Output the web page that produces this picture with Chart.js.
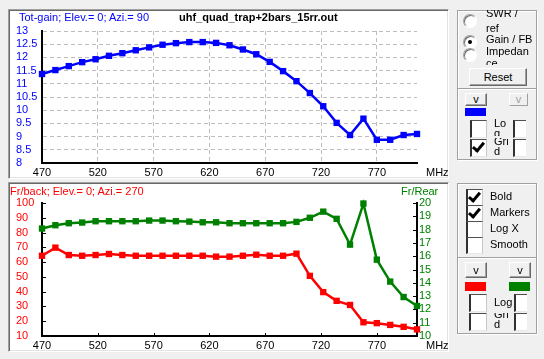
<!DOCTYPE html>
<html><head><meta charset="utf-8">
<script src="https://cdn.jsdelivr.net/npm/chart.js@4/dist/chart.umd.min.js"></script>
<style>
html,body{margin:0;padding:0;background:#f0f0f0;width:544px;height:359px;overflow:hidden;font-family:"Liberation Sans",Arial,sans-serif;font-size:11px;}
.abs{position:absolute;}
.panel{position:absolute;box-sizing:border-box;background:#fff;border-left:1px solid #a0a0a0;border-top:1px solid #a0a0a0;border-right:1px solid #fff;border-bottom:1px solid #fff;box-shadow:inset 1px 1px 0 #696969, inset -1px -1px 0 #e3e3e3;}
canvas{position:absolute;}
.txt{position:absolute;white-space:nowrap;line-height:13px;font-size:11px;}
.grp{position:absolute;box-sizing:border-box;border:1px solid #a0a0a0;box-shadow:1px 1px 0 #fff, inset 1px 1px 0 #fff;}
.btn{position:absolute;box-sizing:border-box;background:#f0f0f0;border-top:1px solid #fff;border-left:1px solid #fff;border-right:1px solid #696969;border-bottom:1px solid #696969;box-shadow:inset -1px -1px 0 #a0a0a0;text-align:center;font-size:11px;}
.cb{position:absolute;box-sizing:border-box;background:#fff;border-left:2px solid #303030;border-top:1px solid #505050;border-right:1px solid #c8c8c8;border-bottom:1px solid #e8e8e8;}
.chk{position:absolute;left:3px;top:0px;width:4px;height:9px;border-right:3px solid #000;border-bottom:3px solid #000;transform:rotate(40deg);}
.radio{position:absolute;box-sizing:border-box;width:14px;height:14px;border-radius:50%;background:#fff;border:1px solid;border-color:#a0a0a0 #fff #fff #a0a0a0;box-shadow:inset 1px 1px 0 #696969;}
.dot{position:absolute;left:4px;top:4px;width:4px;height:4px;border-radius:50%;background:#000;}
.clip{position:absolute;overflow:hidden;}
</style>
</head><body>
<div class="panel" style="left:8px;top:9px;width:441px;height:170px;"></div>
<div class="panel" style="left:8px;top:182px;width:441px;height:170px;"></div>
<canvas id="c1" width="440" height="169" style="left:9px;top:10px;"></canvas>
<canvas id="c2" width="440" height="169" style="left:9px;top:183px;"></canvas>

<div class="txt" style="left:19px;top:11px;color:#0000ff;">Tot-gain; Elev.= 0; Azi.= 90</div>
<div class="txt" style="left:179px;top:11px;color:#000;font-weight:bold;">uhf_quad_trap+2bars_15rr.out</div>
<div class="txt" style="left:426px;top:166px;color:#000;">MHz</div>
<div class="txt" style="left:10px;top:185px;color:#ff0000;">Fr/back; Elev.= 0; Azi.= 270</div>
<div class="txt" style="left:401px;top:185px;color:#008000;">Fr/Rear</div>
<div class="txt" style="left:426px;top:339px;color:#000;">MHz</div>

<!-- group 1 -->
<div class="grp" style="left:457px;top:10px;width:80px;height:79px;"></div>
<div class="radio" style="left:463px;top:14px;"></div>
<div class="radio" style="left:463px;top:35px;"><div class="dot"></div></div>
<div class="radio" style="left:463px;top:48px;"></div>
<div class="clip" style="left:486px;top:10px;width:50px;height:24px;"><div class="txt" style="left:0;top:-4px;line-height:15px;">SWR /<br>ref</div></div>
<div class="txt" style="left:486px;top:33px;">Gain / FB</div>
<div class="clip" style="left:486px;top:47px;width:50px;height:18px;"><div class="txt" style="left:0;top:-2px;line-height:12px;">Impedan<br>ce</div></div>
<div class="btn" style="left:469px;top:68px;width:58px;height:18px;line-height:16px;">Reset</div>

<!-- group 2 -->
<div class="grp" style="left:457px;top:88px;width:80px;height:72px;"></div>
<div class="btn" style="left:465px;top:93px;width:22px;height:13px;line-height:10px;">v</div>
<div class="btn" style="left:509px;top:93px;width:19px;height:13px;line-height:10px;color:#a0a0a0;border-right-color:#a0a0a0;border-bottom-color:#a0a0a0;box-shadow:none;">v</div>
<div class="abs" style="left:465px;top:108px;width:21px;height:8px;background:#0000ff;"></div>
<div class="cb" style="left:470px;top:120px;width:17px;height:18px;"></div>
<div class="cb" style="left:470px;top:139px;width:17px;height:18px;"><div class="chk"></div></div>
<div class="clip" style="left:494px;top:118px;width:16px;height:18px;"><div class="txt" style="left:0;top:0px;line-height:10px;">Lo<br>g</div></div>
<div class="clip" style="left:494px;top:138px;width:16px;height:20px;"><div class="txt" style="left:0;top:-2px;line-height:10px;">Gri<br>d</div></div>
<div class="cb" style="left:513px;top:120px;width:13px;height:18px;border-right:none;"></div>
<div class="cb" style="left:513px;top:139px;width:13px;height:18px;border-right:none;"></div>

<!-- group 3 -->
<div class="grp" style="left:457px;top:183px;width:80px;height:75px;"></div>
<div class="cb" style="left:466px;top:189px;width:17px;height:17px;"><div class="chk"></div></div>
<div class="cb" style="left:466px;top:205px;width:17px;height:17px;"><div class="chk"></div></div>
<div class="cb" style="left:466px;top:221px;width:17px;height:17px;"></div>
<div class="cb" style="left:466px;top:237px;width:17px;height:17px;"></div>
<div class="txt" style="left:490px;top:190px;">Bold</div>
<div class="txt" style="left:490px;top:206px;">Markers</div>
<div class="txt" style="left:490px;top:222px;">Log X</div>
<div class="txt" style="left:490px;top:238px;">Smooth</div>

<!-- group 4 -->
<div class="grp" style="left:457px;top:257px;width:80px;height:77px;"></div>
<div class="btn" style="left:465px;top:262px;width:22px;height:16px;line-height:14px;">v</div>
<div class="btn" style="left:509px;top:262px;width:22px;height:16px;line-height:14px;">v</div>
<div class="abs" style="left:465px;top:282px;width:21px;height:9px;background:#ff0000;"></div>
<div class="abs" style="left:509px;top:282px;width:21px;height:9px;background:#008000;"></div>
<div class="cb" style="left:469px;top:294px;width:18px;height:18px;"></div>
<div class="cb" style="left:469px;top:313px;width:18px;height:18px;"></div>
<div class="txt" style="left:494px;top:296px;">Log</div>
<div class="clip" style="left:494px;top:313px;width:16px;height:18px;"><div class="txt" style="left:0;top:-4px;line-height:10px;">Gri<br>d</div></div>
<div class="cb" style="left:514px;top:294px;width:13px;height:18px;border-right:none;"></div>
<div class="cb" style="left:514px;top:313px;width:13px;height:18px;border-right:none;"></div>

<script>
// ---- data ----
const freqs = [470,482,494,506,518,530,542,554,566,578,590,602,614,626,638,650,662,674,686,698,710,722,734,746,758,770,782,794,806];
const totGain = [11.37,11.52,11.67,11.82,11.93,12.06,12.16,12.27,12.38,12.48,12.54,12.58,12.58,12.55,12.46,12.30,12.12,11.83,11.48,11.10,10.65,10.15,9.52,9.06,9.68,8.88,8.88,9.06,9.10];
const frBack = [64.3,69.8,64.8,64.3,64.8,65.5,64.8,64.3,64.3,64.3,64.3,64.3,64.3,63.7,63.7,64.3,65.0,64.3,64.3,65.7,50.7,39.7,33.8,31.0,19.3,18.7,17.5,16.2,14.5];
const frRear = [18.08,18.33,18.48,18.53,18.63,18.63,18.63,18.63,18.68,18.68,18.63,18.60,18.55,18.55,18.48,18.48,18.48,18.48,18.48,18.58,18.89,19.35,18.81,16.87,19.96,15.74,14.09,12.93,12.26];
const xTicks = [470,520,570,620,670,720,770];
const gainTicks = [8,8.5,9,9.5,10,10.5,11,11.5,12,12.5,13];
const fbTicks = [10,20,30,40,50,60,70,80,90,100];
const rearTicks = [10,11,12,13,14,15,16,17,18,19,20];

Chart.defaults.font.family = '"Liberation Sans", Arial, sans-serif';
Chart.defaults.font.size = 11;

const pts = (ys) => freqs.map((f, i) => ({x: f, y: ys[i]}));
const setTicks = (arr) => (s) => { s.ticks = arr.map(v => ({value: v})); };
const lbl = (v) => String(v);

const innerTicks = {
  id: 'innerTicks',
  afterDraw(chart) {
    const ctx = chart.ctx, a = chart.chartArea;
    ctx.save();
    ctx.strokeStyle = '#000';
    ctx.lineWidth = 1;
    ctx.beginPath();
    const yl = chart.scales.yL, yr = chart.scales.yR, x = chart.scales.x;
    fbTicks.forEach(v => { const p = Math.round(yl.getPixelForValue(v)) + 0.5; ctx.moveTo(a.left, p); ctx.lineTo(a.left + 4, p); });
    rearTicks.forEach(v => { const p = Math.round(yr.getPixelForValue(v)) + 0.5; ctx.moveTo(a.right - 4, p); ctx.lineTo(a.right, p); });
    xTicks.forEach(v => { const p = Math.round(x.getPixelForValue(v)) + 0.5; ctx.moveTo(p, a.bottom); ctx.lineTo(p, a.bottom - 3); });
    ctx.stroke();
    ctx.restore();
  }
};

const common = {
  responsive: false, animation: false, events: [],
  plugins: {legend: {display: false}, tooltip: {enabled: false}},
};

new Chart(document.getElementById('c1'), {
  type: 'line',
  data: {datasets: [{data: pts(totGain), borderColor: '#0000ff', backgroundColor: '#0000ff',
    borderWidth: 2.5, pointStyle: 'rect', pointRadius: 4.5, pointBorderWidth: 0, tension: 0, clip: false}]},
  options: Object.assign({}, common, {
    layout: {padding: {left: 7, right: 32, top: 21, bottom: 0}},
    scales: {
      x: {type: 'linear', min: 470, max: 806, afterBuildTicks: setTicks(xTicks), afterFit: s => { s.height = 16; },
          grid: {color: '#bdbdbd', drawTicks: false, lineWidth: 1},
          border: {color: '#000', width: 2, dash: [4, 3]},
          ticks: {color: '#000', padding: 3, autoSkip: false, maxRotation: 0, callback: lbl}},
      y: {type: 'linear', min: 8, max: 13, afterBuildTicks: setTicks(gainTicks), afterFit: s => { s.width = 26; },
          grid: {color: '#bdbdbd', drawTicks: false, lineWidth: 1},
          border: {color: '#000', width: 2, dash: [4, 3]},
          ticks: {color: '#0000ff', crossAlign: 'far', padding: 0, autoSkip: false, callback: lbl}}
    }
  })
});

new Chart(document.getElementById('c2'), {
  type: 'line',
  data: {datasets: [
    {data: pts(frBack), yAxisID: 'yL', borderColor: '#ff0000', backgroundColor: '#ff0000',
     borderWidth: 2.5, pointStyle: 'rect', pointRadius: 4.5, pointBorderWidth: 0, tension: 0, clip: false},
    {data: pts(frRear), yAxisID: 'yR', borderColor: '#008000', backgroundColor: '#008000',
     borderWidth: 2.5, pointStyle: 'rect', pointRadius: 4.5, pointBorderWidth: 0, tension: 0, clip: false}
  ]},
  options: Object.assign({}, common, {
    layout: {padding: {left: 7, right: 0, top: 20, bottom: 0}},
    scales: {
      x: {type: 'linear', min: 470, max: 806, afterBuildTicks: setTicks(xTicks), afterFit: s => { s.height = 16; },
          grid: {display: true, drawOnChartArea: false, drawTicks: false},
          border: {color: '#000', width: 2},
          ticks: {color: '#000', padding: 3, autoSkip: false, maxRotation: 0, callback: lbl}},
      yL: {type: 'linear', position: 'left', min: 10, max: 100, afterBuildTicks: setTicks(fbTicks), afterFit: s => { s.width = 26; },
          grid: {display: true, drawOnChartArea: false, drawTicks: false},
          border: {color: '#000', width: 2},
          ticks: {color: '#ff0000', crossAlign: 'far', padding: 0, autoSkip: false, callback: lbl}},
      yR: {type: 'linear', position: 'right', min: 10, max: 20, afterBuildTicks: setTicks(rearTicks), afterFit: s => { s.width = 32; },
          grid: {display: true, drawOnChartArea: false, drawTicks: false},
          border: {color: '#000', width: 2},
          ticks: {color: '#008000', crossAlign: 'near', padding: 2, autoSkip: false, callback: lbl}}
    }
  }),
  plugins: [innerTicks]
});
</script>
</body></html>
